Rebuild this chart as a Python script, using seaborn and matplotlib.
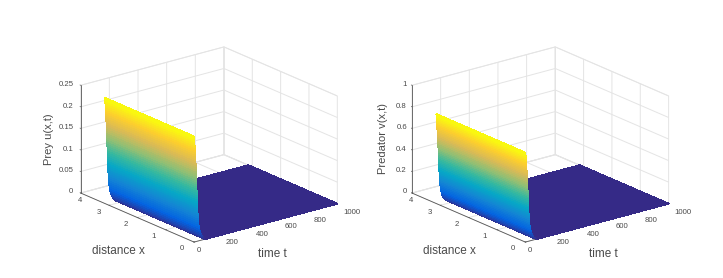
import numpy as np
import matplotlib
matplotlib.use("Agg")
import matplotlib.pyplot as plt
import seaborn as sns

# Time samples read along the decay of the wall, then out to the end of the run
time_t = [0, .9, 1.8, 2.7, 3.6, 4.5, 5.4, 6.2, 7.0, 7.8, 8.6, 9.4, 10.2, 11, 11.6,
          12.2, 12.8, 13.4, 14.0, 14.5, 15, 15.5, 16, 16.5, 17, 17.5, 18, 18.5, 19, 19.5,
          20.1, 20.7, 21.3, 22, 22.7, 23.5, 24.3, 25.2, 26.1, 27.2, 28.6, 30, 32, 34.5, 37.5,
          41, 46, 53, 60, 67, 73, 85, 1000]
distance_x = [0, 3.14]
prey_u = [.245, .240, .235, .230, .225, .220, .215, .210, .205, .200, .195, .190, .185, .180, .175,
          .170, .165, .160, .155, .150, .145, .140, .135, .130, .125, .120, .115, .110, .105, .100,
          .095, .090, .085, .080, .075, .070, .065, .060, .055, .050, .045, .040, .035, .030, .025,
          .020, .015, .010, .006, .003, .001, 0, 0]
predator_v = [.83, .813, .797, .780, .763, .746, .729, .712, .695, .678, .661, .644, .627, .610, .593,
              .576, .559, .542, .525, .508, .492, .475, .458, .441, .424, .407, .390, .373, .356, .339,
              .322, .305, .288, .271, .254, .237, .220, .203, .186, .170, .153, .136, .119, .102, .085,
              .068, .051, .034, .020, .010, .004, 0, 0]
t_ticks = [0, 200, 400, 600, 800, 1000]
x_ticks = [0, 1, 2, 3, 4]
u_ticks = [0, 0.05, 0.1, 0.15, 0.2, 0.25]
u_ticklabels = ["0", "0.05", "0.1", "0.15", "0.2", "0.25"]
v_ticks = [0, 0.2, 0.4, 0.6, 0.8, 1]
v_ticklabels = ["0", "0.2", "0.4", "0.6", "0.8", "1"]
parula_stops = ["#352a87", "#0363e1", "#1485d4", "#06a7c6", "#38b99e",
                "#92bf73", "#d9ba56", "#fcce2e", "#f9fb0e"]

sns.set_theme(style="white")
plt.rcParams["font.family"] = ["Liberation Sans", "DejaVu Sans"]
parula = sns.blend_palette(parula_stops, n_colors=256, as_cmap=True)

W, H = 723, 278
fig = plt.figure(figsize=(W / 100, H / 100), dpi=100)
TXT = "#4a4a4a"
GRID = "#e4e4e4"
SIDE = 300
# Tick label centres on the page, in pixels, for the left panel
T_LABEL_XY = [(199, 250), (232, 243), (262, 235), (291, 227), (320, 220), (352, 212)]
X_LABEL_XY = [(182, 249), (154, 237), (126, 225), (99, 212), (80, 200)]
Z_LABEL_Y = [191.3, 170.3, 149.3, 127.7, 106.7, 84]


def put(x, y, s, size, **kw):
    fig.text(x / W, 1 - y / H, s, fontsize=size, color=TXT, va="center", **kw)


def panel(cx, cy, shift, z_right, values, zmax, zticks, zlabels, zname, zname_xy):
    ax = fig.add_axes([(cx - 0.5135 * SIDE) / W, (H - cy - 0.5135 * SIDE) / H, SIDE / W, SIDE / H],
                      projection="3d", proj_type="ortho")
    ax.patch.set_alpha(0)
    ax.view_init(elev=19.9, azim=-128.2)
    ax.set_box_aspect((182.3, 183.3, 114.6), zoom=0.915)
    T, X = np.meshgrid(np.array(time_t), np.array(distance_x))
    Z = np.tile(np.array(values), (2, 1))
    surf = ax.plot_surface(T, X, Z, cmap=parula, vmin=0, vmax=values[0], rstride=1, cstride=1,
                           linewidth=0.6, antialiased=False, shade=False)
    surf.set_edgecolor("face")
    ax.set_xlim(0, 1000)
    ax.set_ylim(0, 4)
    ax.set_zlim(0, zmax)
    ax.set_xticks(t_ticks)
    ax.set_yticks(x_ticks)
    ax.set_zticks(zticks)
    ax.set_xticklabels([])
    ax.set_yticklabels([])
    ax.set_zticklabels([])
    for axis in (ax.xaxis, ax.yaxis, ax.zaxis):
        axis.set_pane_color((1, 1, 1, 1))
        axis.pane.set_edgecolor(GRID)
        axis.pane.set_linewidth(0.6)
        axis.line.set_color("#555555")
        axis.line.set_linewidth(0.6)
        axis._axinfo["grid"].update(color=GRID, linewidth=0.7)
        axis._axinfo["tick"].update(inward_factor=0.0, outward_factor=0.08)
        axis._axinfo["tick"]["linewidth"] = {True: 0.5, False: 0.5}
        axis.set_tick_params(color="#555555", pad=0)
    ax.zaxis._get_tickdir = lambda position: 1
    ax.grid(True)
    for (x, y), v in zip(T_LABEL_XY, t_ticks):
        put(x + shift, y, str(v), 5.6, ha="center")
    for (x, y), v in zip(X_LABEL_XY, x_ticks):
        put(x + shift, y, str(v), 5.6, ha="center")
    for y, s in zip(Z_LABEL_Y, zlabels):
        put(z_right, y, s, 5.6, ha="right")
    put(zname_xy[0], zname_xy[1], zname, 8, rotation=90, ha="center")
    put(118 + shift, 251, "distance x", 8.5, ha="center")
    put(272 + shift, 254, "time t", 8.5, ha="center")
    return ax


panel(209, 144.5, 0, 73.3, prey_u, 0.25, u_ticks, u_ticklabels, "Prey u(x,t)", (48.5, 139))
panel(540.3, 144.5, 331, 407, predator_v, 1, v_ticks, v_ticklabels, "Predator v(x,t)", (383, 139))

fig.savefig("out.png", dpi=100)
